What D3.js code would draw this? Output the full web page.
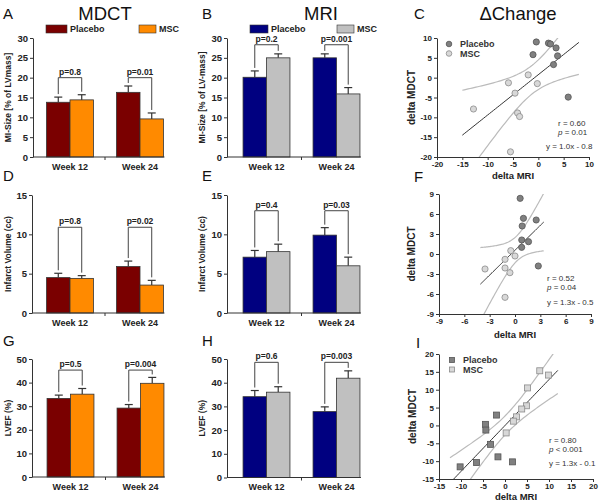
<!DOCTYPE html>
<html>
<head>
<meta charset="utf-8">
<script src="https://cdn.jsdelivr.net/npm/d3@7"></script>
<style>
body{margin:0;background:#fff}
svg{font-family:"Liberation Sans",Arial,sans-serif}
</style>
</head>
<body>
<script>
var weeks = ["Week 12", "Week 24"];

// MI size (% of LV mass)
var mdctSizePlacebo = [13.8, 16.3], mdctSizePlaceboErr = [1.3, 1.6];
var mdctSizeMsc = [14.4, 9.6], mdctSizeMscErr = [1.3, 1.5];
var mriSizePlacebo = [20.1, 25.0], mriSizePlaceboErr = [1.6, 1.0];
var mriSizeMsc = [25.0, 15.9], mriSizeMscErr = [1.0, 1.6];

// infarct volume (cc)
var mdctVolPlacebo = [4.5, 5.9], mdctVolPlaceboErr = [0.55, 0.7];
var mdctVolMsc = [4.4, 3.55], mdctVolMscErr = [0.35, 0.6];
var mriVolPlacebo = [7.1, 9.9], mriVolPlaceboErr = [0.85, 0.95];
var mriVolMsc = [7.8, 6.0], mriVolMscErr = [0.95, 1.1];

// LVEF (%)
var mdctEfPlacebo = [33.3, 29.2], mdctEfPlaceboErr = [1.4, 1.5];
var mdctEfMsc = [35.1, 39.7], mdctEfMscErr = [2.4, 2.5];
var mriEfPlacebo = [34.1, 27.8], mriEfPlaceboErr = [2.6, 2.0];
var mriEfMsc = [36.0, 41.9], mriEfMscErr = [2.3, 3.1];

var pSize = [["p=0.8", "p=0.01"], ["p=0.2", "p=0.001"]];
var pVol = [["p=0.8", "p=0.02"], ["p=0.4", "p=0.03"]];
var pEf = [["p=0.5", "p=0.004"], ["p=0.6", "p=0.003"]];

// bracket heights (data units)
var brSize = [[20, 20], [28.3, 28.3]];
var brVol = [[10.9, 10.9], [13, 13]];
var brEf = [[45.3, 45.3], [48.6, 48.6]];

// delta MRI vs delta MDCT
var sizePlaceboX = [-0.4, 2.0, 2.4, 3.5, 3.8, -1.05, 3.0, 5.9];
var sizePlaceboY = [9.0, 8.7, 8.5, 7.5, 5.5, 5.8, 3.3, -4.9];
var sizeMscX = [-5.9, -2.0, -0.2, -4.6, -12.8, -4.1, -3.7, -5.5];
var sizeMscY = [-1.3, 0.7, -1.5, -3.9, -7.9, -8.9, -9.8, -18.7];

var volPlaceboX = [0.61, 1.0, 0.85, 2.51, 0.8, 1.6, 0.79, 2.76];
var volPlaceboY = [8.35, 5.35, 4.2, 5.1, 2.1, 1.85, 1.0, -1.8];
var volMscX = [-0.5, 0.0, -1.18, -1.18, -0.6, -3.55, -1.18];
var volMscY = [0.5, -0.3, -0.8, -2.1, -2.8, -2.25, -6.5];

var efPlaceboX = [-4.43, -4.35, -1.93, -3.29, -1.6, 1.7, -6.47, -10.2];
var efPlaceboY = [0.3, -1.3, 2.9, -5.3, -8.8, -10.2, -10.4, -11.6];
var efMscX = [7.9, 9.9, 5.1, 4.86, 3.8, 2.6, 1.9, 0.26];
var efMscY = [15.3, 14.1, 10.5, 5.5, 4.6, 2.4, 1.2, -2.1];

var statsSize = ["r = 0.60", "0.01", "=", "y = 1.0x - 0.8"];
var statsVol = ["r = 0.52", "0.04", "=", "y = 1.3x - 0.5"];
var statsEf = ["r = 0.80", "0.001", "<", "y = 1.3x - 0.1"];

var tCrit = {13: 2.160, 14: 2.145};

var mdctColors = {placebo: "#7a0000", msc: "#ff8a00"};
var mriColors = {placebo: "#000080", msc: "#c0c0c0"};

var svg = d3.select("body").append("svg").attr("width", 600).attr("height", 503);

function styleAxis(a, size) {
    a.selectAll("path,line").attr("stroke", "#333").attr("stroke-width", 1);
    a.selectAll("text").attr("fill", "#222").attr("font-size", size).attr("font-weight", "bold")
        .attr("font-family", "Liberation Sans, Arial, sans-serif");
}

function barPanel(o) {
    var x = d3.scaleBand().domain(weeks).range([o.r0, o.r0 + 140]).paddingInner(0.33).paddingOuter(0.165);
    var y = d3.scaleLinear().domain([0, o.max]).range([o.bottom, o.top]);
    var groups = ["placebo", "msc"];
    var sub = d3.scaleBand().domain(groups).range([0, x.bandwidth()]);
    var vals = {placebo: o.placebo, msc: o.msc};
    var errs = {placebo: o.placeboErr, msc: o.mscErr};
    var g = svg.append("g");

    weeks.forEach(function(w, i) {
        groups.forEach(function(k) {
            var v = vals[k][i], e = errs[k][i];
            var bx = x(w) + sub(k), bw = sub.bandwidth(), cx = bx + bw / 2;
            g.append("line").attr("x1", cx).attr("x2", cx).attr("y1", y(v)).attr("y2", y(v + e))
                .attr("stroke", "#333").attr("stroke-width", 1.2);
            g.append("line").attr("x1", cx - 4).attr("x2", cx + 4).attr("y1", y(v + e)).attr("y2", y(v + e))
                .attr("stroke", "#333").attr("stroke-width", 1.2);
            g.append("rect").attr("x", bx).attr("y", y(v)).attr("width", bw).attr("height", y(0) - y(v))
                .attr("fill", o.colors[k]).attr("stroke", "#333").attr("stroke-width", 0.8);
        });
        var xl = x(w) + sub("placebo") + sub.bandwidth() / 2;
        var xr = x(w) + sub("msc") + sub.bandwidth() / 2;
        var yb = y(o.bracket[i]);
        var yl = y(vals.placebo[i] + errs.placebo[i]) - 3;
        var yr = y(vals.msc[i] + errs.msc[i]) - 3;
        g.append("path").attr("d", "M" + xl + "," + yl + "V" + yb + "H" + xr + "V" + yr)
            .attr("fill", "none").attr("stroke", "#444").attr("stroke-width", 1);
        g.append("text").attr("x", (xl + xr) / 2).attr("y", yb - 3).attr("text-anchor", "middle")
            .attr("font-size", 8.5).attr("font-weight", "bold").attr("fill", "#222").text(o.pvals[i]);
    });

    var ya = g.append("g").attr("transform", "translate(" + o.left + ",0)")
        .call(d3.axisLeft(y).tickValues(d3.range(0, o.max + 0.1, o.step)).tickSize(3).tickSizeOuter(0).tickPadding(2).tickFormat(d3.format("d")));
    styleAxis(ya, 9.5);

    var xEnd = x(weeks[1]) + x.bandwidth() + 1;
    var mid = (x(weeks[0]) + x.bandwidth() + x(weeks[1])) / 2;
    g.append("line").attr("x1", o.left).attr("x2", xEnd).attr("y1", y(0)).attr("y2", y(0))
        .attr("stroke", "#333").attr("stroke-width", 1);
    g.append("line").attr("x1", mid).attr("x2", mid).attr("y1", y(0)).attr("y2", y(0) + 3)
        .attr("stroke", "#333").attr("stroke-width", 1);
    weeks.forEach(function(w) {
        g.append("text").attr("x", x(w) + x.bandwidth() / 2).attr("y", y(0) + 12.5).attr("text-anchor", "middle")
            .attr("font-size", 9).attr("font-weight", "bold").attr("fill", "#222").text(w);
    });

    g.append("text").attr("transform", "translate(" + o.labelX + "," + (o.top + o.bottom) / 2 + ") rotate(-90)")
        .attr("text-anchor", "middle").attr("font-size", 8.5).attr("font-weight", "bold").attr("fill", "#222")
        .text(o.ylabel);
}

function scatterPanel(o) {
    var x = d3.scaleLinear().domain(o.xd).range(o.xr);
    var y = d3.scaleLinear().domain(o.yd).range(o.yr);
    var g = svg.append("g");

    g.append("clipPath").attr("id", "clip" + o.id).append("rect")
        .attr("x", o.xr[0]).attr("y", o.yr[1]).attr("width", o.xr[1] - o.xr[0]).attr("height", o.yr[0] - o.yr[1]);

    // linear fit with 95% confidence band
    var xs = o.px.concat(o.mx), ys = o.py.concat(o.my);
    var n = xs.length, xm = d3.mean(xs), ym = d3.mean(ys);
    var sxx = d3.sum(xs, function(d) { return (d - xm) * (d - xm); });
    var sxy = d3.sum(xs, function(d, i) { return (d - xm) * (ys[i] - ym); });
    var syy = d3.sum(ys, function(d) { return (d - ym) * (d - ym); });
    var b = sxy / sxx, a = ym - b * xm;
    var se = Math.sqrt((syy - b * sxy) / (n - 2));
    var t = tCrit[n - 2];
    var grid = d3.range(0, 61).map(function(i) { return o.fit[0] + (o.fit[1] - o.fit[0]) * i / 60; });
    function band(sign) {
        return d3.line().x(function(d) { return x(d); })
            .y(function(d) { return y(a + b * d + sign * t * se * Math.sqrt(1 / n + (d - xm) * (d - xm) / sxx)); });
    }
    var cg = g.append("g").attr("clip-path", "url(#clip" + o.id + ")");
    cg.append("path").attr("d", band(1)(grid)).attr("fill", "none").attr("stroke", "#bbb").attr("stroke-width", 1.2);
    cg.append("path").attr("d", band(-1)(grid)).attr("fill", "none").attr("stroke", "#bbb").attr("stroke-width", 1.2);
    cg.append("path").attr("d", band(0)(grid)).attr("fill", "none").attr("stroke", "#333").attr("stroke-width", 1);

    function marks(xv, yv, fill, stroke) {
        xv.forEach(function(d, i) {
            if (o.square) {
                g.append("rect").attr("x", x(d) - 3).attr("y", y(yv[i]) - 3).attr("width", 6).attr("height", 6)
                    .attr("fill", fill).attr("stroke", stroke).attr("stroke-width", 0.8);
            } else {
                g.append("circle").attr("cx", x(d)).attr("cy", y(yv[i])).attr("r", 3.1)
                    .attr("fill", fill).attr("stroke", stroke).attr("stroke-width", 0.8);
            }
        });
    }
    marks(o.mx, o.my, "#d8d8d8", "#8a8a8a");
    marks(o.px, o.py, "#808080", "#555");

    var ticksX = d3.range(o.xd[0], o.xd[1] + 0.1, o.step);
    var ticksY = d3.range(o.yd[0], o.yd[1] + 0.1, o.step);
    var ya = g.append("g").attr("transform", "translate(" + o.xr[0] + ",0)")
        .call(d3.axisLeft(y).tickValues(ticksY).tickSize(3).tickSizeOuter(0).tickPadding(2).tickFormat(String));
    styleAxis(ya, 8);
    var xa = g.append("g").attr("transform", "translate(0," + o.yr[0] + ")")
        .call(d3.axisBottom(x).tickValues(ticksX).tickSize(3).tickSizeOuter(0).tickPadding(1).tickFormat(String));
    styleAxis(xa, 8);

    g.append("text").attr("x", (o.xr[0] + o.xr[1]) / 2).attr("y", o.xlabY).attr("text-anchor", "middle")
        .attr("font-size", 9.5).attr("font-weight", "bold").attr("fill", "#222").text("delta MRI");
    g.append("text").attr("transform", "translate(" + o.ylabX + "," + (o.yr[0] + o.yr[1]) / 2 + ") rotate(-90)")
        .attr("text-anchor", "middle").attr("font-size", 10).attr("font-weight", "bold").attr("fill", "#222")
        .text("delta MDCT");

    var st = g.append("g").attr("font-size", 8).attr("fill", "#333");
    st.append("text").attr("x", o.statX[0]).attr("y", o.statY[0]).text(o.stats[0]);
    var pt = st.append("text").attr("x", o.statX[0]).attr("y", o.statY[1]);
    pt.append("tspan").attr("font-style", "italic").text("p");
    pt.append("tspan").text(" " + o.stats[2] + " " + o.stats[1]);
    st.append("text").attr("x", o.statX[1]).attr("y", o.statY[2]).text(o.stats[3]);

    if (o.legend) {
        var lg = g.append("g").attr("font-size", 9).attr("font-weight", "bold").attr("fill", "#333");
        [["Placebo", "#808080", "#555"], ["MSC", "#d8d8d8", "#8a8a8a"]].forEach(function(r, i) {
            var ly = o.legend[1] + i * 9.5;
            if (o.square) {
                lg.append("rect").attr("x", o.legend[0] - 2.5).attr("y", ly - 2.5).attr("width", 5).attr("height", 5)
                    .attr("fill", r[1]).attr("stroke", r[2]).attr("stroke-width", 0.8);
            } else {
                lg.append("circle").attr("cx", o.legend[0]).attr("cy", ly).attr("r", 2.8)
                    .attr("fill", r[1]).attr("stroke", r[2]).attr("stroke-width", 0.8);
            }
            lg.append("text").attr("x", o.legend[0] + 11).attr("y", ly + 3).text(r[0]);
        });
    }
}

function barLegend(colors, x1, w1, x2, w2) {
    var lg = svg.append("g").attr("font-size", 9).attr("font-weight", "bold").attr("fill", "#222");
    lg.append("rect").attr("x", x1).attr("y", 25).attr("width", w1).attr("height", 8)
        .attr("fill", colors.placebo).attr("stroke", "#333").attr("stroke-width", 0.6);
    lg.append("text").attr("x", x1 + w1 + 3).attr("y", 32).text("Placebo");
    lg.append("rect").attr("x", x2).attr("y", 25).attr("width", w2).attr("height", 8)
        .attr("fill", colors.msc).attr("stroke", "#333").attr("stroke-width", 0.6);
    lg.append("text").attr("x", x2 + w2 + 3).attr("y", 32).text("MSC");
}

// titles and panel letters
[["MDCT", 105], ["MRI", 321], ["\u0394Change", 518]].forEach(function(t) {
    svg.append("text").attr("x", t[1]).attr("y", 20).attr("text-anchor", "middle")
        .attr("font-size", 18.5).attr("fill", "#111").text(t[0]);
});
[["A", 3, 19], ["B", 202, 19], ["C", 414, 19], ["D", 3, 181], ["E", 202, 181], ["F", 414, 182],
 ["G", 3, 346], ["H", 202, 346], ["I", 416, 348]].forEach(function(l) {
    svg.append("text").attr("x", l[1]).attr("y", l[2]).attr("font-size", 15).attr("fill", "#111").text(l[0]);
});

barLegend(mdctColors, 46, 21, 139, 17);
barLegend(mriColors, 250, 18, 337, 17);

barPanel({left: 33, r0: 35, top: 38, bottom: 157, max: 30, step: 5, colors: mdctColors,
    placebo: mdctSizePlacebo, placeboErr: mdctSizePlaceboErr, msc: mdctSizeMsc, mscErr: mdctSizeMscErr,
    pvals: pSize[0], bracket: brSize[0], ylabel: "MI-Size [% of LVmass]", labelX: 11});
barPanel({left: 227, r0: 231.5, top: 38, bottom: 157, max: 30, step: 5, colors: mriColors,
    placebo: mriSizePlacebo, placeboErr: mriSizePlaceboErr, msc: mriSizeMsc, mscErr: mriSizeMscErr,
    pvals: pSize[1], bracket: brSize[1], ylabel: "MI-Size [% of LV-mass]", labelX: 205});
barPanel({left: 32, r0: 35, top: 195, bottom: 313, max: 15, step: 5, colors: mdctColors,
    placebo: mdctVolPlacebo, placeboErr: mdctVolPlaceboErr, msc: mdctVolMsc, mscErr: mdctVolMscErr,
    pvals: pVol[0], bracket: brVol[0], ylabel: "Infarct Volume (cc)", labelX: 11});
barPanel({left: 227, r0: 231.5, top: 195, bottom: 313, max: 15, step: 5, colors: mriColors,
    placebo: mriVolPlacebo, placeboErr: mriVolPlaceboErr, msc: mriVolMsc, mscErr: mriVolMscErr,
    pvals: pVol[1], bracket: brVol[1], ylabel: "Infarct Volume (cc)", labelX: 205});
barPanel({left: 32, r0: 35.5, top: 359, bottom: 477, max: 50, step: 10, colors: mdctColors,
    placebo: mdctEfPlacebo, placeboErr: mdctEfPlaceboErr, msc: mdctEfMsc, mscErr: mdctEfMscErr,
    pvals: pEf[0], bracket: brEf[0], ylabel: "LVEF (%)", labelX: 11});
barPanel({left: 227, r0: 231.5, top: 359, bottom: 477.5, max: 50, step: 10, colors: mriColors,
    placebo: mriEfPlacebo, placeboErr: mriEfPlaceboErr, msc: mriEfMsc, mscErr: mriEfMscErr,
    pvals: pEf[1], bracket: brEf[1], ylabel: "LVEF (%)", labelX: 205});

scatterPanel({id: "C", xd: [-20, 10], yd: [-20, 10], xr: [437, 589], yr: [157, 38], step: 5,
    px: sizePlaceboX, py: sizePlaceboY, mx: sizeMscX, my: sizeMscY, fit: [-15, 8],
    xlabY: 179, ylabX: 415, stats: statsSize, statX: [558, 546], statY: [126, 135, 149], legend: [449, 44]});
scatterPanel({id: "F", xd: [-9, 9], yd: [-9, 9], xr: [439, 591], yr: [314, 194], step: 3,
    px: volPlaceboX, py: volPlaceboY, mx: volMscX, my: volMscY, fit: [-4.1, 3.4],
    xlabY: 338, ylabX: 415, stats: statsVol, statX: [547, 547], statY: [281, 290, 305]});
scatterPanel({id: "I", xd: [-15, 20], yd: [-15, 20], xr: [439, 593], yr: [479, 354], step: 5, square: true,
    px: efPlaceboX, py: efPlaceboY, mx: efMscX, my: efMscY, fit: [-12.5, 12],
    xlabY: 500, ylabX: 416, stats: statsEf, statX: [549, 549], statY: [443, 452, 466], legend: [452, 360]});
</script>
</body>
</html>
